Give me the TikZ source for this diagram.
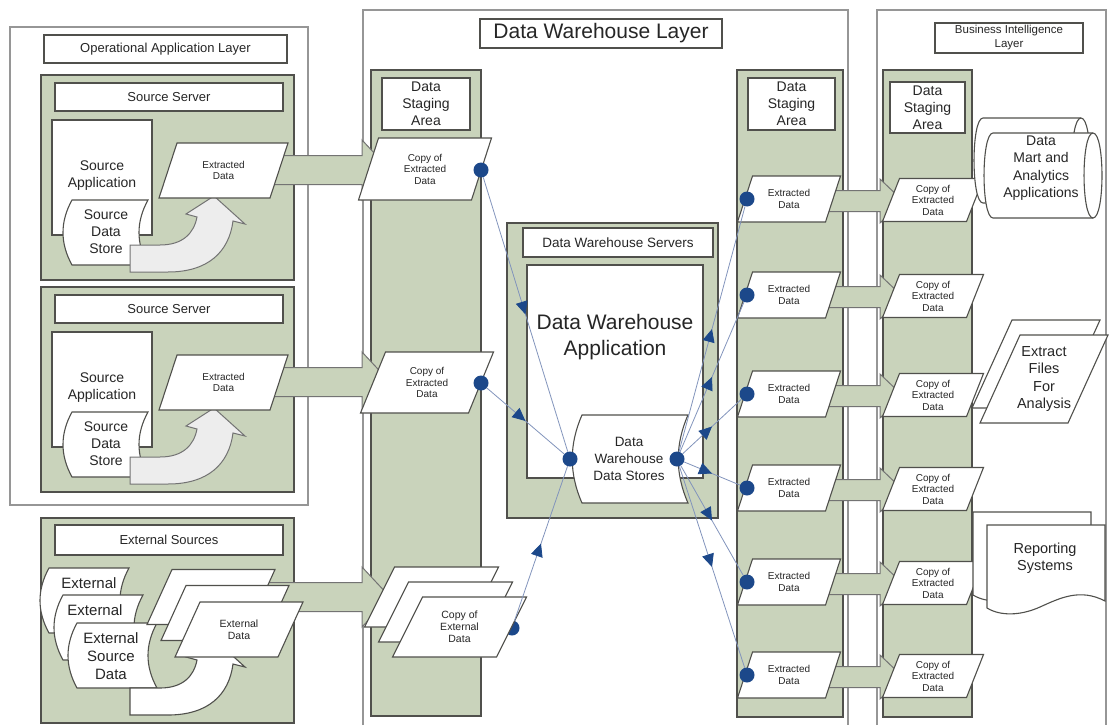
\documentclass[tikz,border=0pt]{standalone}
\usepackage{fontspec}
\setmainfont{Liberation Sans}
\usetikzlibrary{arrows.meta,decorations.markings}

\definecolor{dwgreen}{RGB}{201,211,187}
\definecolor{edgegray}{RGB}{80,80,76}
\definecolor{layergray}{RGB}{150,150,150}
\definecolor{linkblue}{RGB}{130,148,188}
\definecolor{dotblue}{RGB}{28,72,138}

\newcommand\fsz[2]{\fontsize{#1}{#2}\selectfont}

\tikzset{
  layerbox/.style={draw=layergray,line width=2},
  greenbox/.style={draw=edgegray,fill=dwgreen,line width=1.4},
  titlebox/.style={draw=edgegray,fill=white,line width=1.3,inner sep=2pt,align=center,text=black!85},
  shapeline/.style={draw=edgegray,fill=white,line width=1.1},
  flowarrow/.style={draw=black!55,fill=dwgreen,line width=1},
  liftarrow/.style={draw=black!55,fill=black!7,line width=1},
  lbl/.style={align=center,inner sep=0,text=black!85},
  link/.style={draw=linkblue,line width=0.8,postaction={decorate},
    decoration={markings,mark=at position 0.5 with {\arrow[dotblue]{Triangle[length=13pt,width=12pt]}}}},
  dot/.style={circle,fill=dotblue,minimum size=15pt,inner sep=0},
}

% parallelogram: name, cx, cy, width, height, slant, font, text
\newcommand\pgram[8]{%
  \filldraw[shapeline] ({(#2)-(#4)/2+(#6)/2},{(#3)-(#5)/2}) -- ++(#4,0)
    -- ({(#2)+(#4)/2-(#6)/2},{(#3)+(#5)/2}) -- ++(-#4,0) -- cycle;
  \node[lbl,font=#7] (#1) at (#2,#3) {#8};}

% stored-data outline: x1, y1, x2, y2, bulge
\newcommand\storepath[5]{%
  \filldraw[shapeline] (#1,#2) -- (#3,#2)
    .. controls ({(#3)-(#5)},{(#2)+((#4)-(#2))/3}) and ({(#3)-(#5)},{(#4)-((#4)-(#2))/3}) .. (#3,#4)
    -- (#1,#4)
    .. controls ({(#1)-(#5)},{(#4)-((#4)-(#2))/3}) and ({(#1)-(#5)},{(#2)+((#4)-(#2))/3}) .. (#1,#2) -- cycle;}

% horizontal cylinder: x1 (left end), y1, x2 (right end centre), y2, end radius
\newcommand\hcyl[5]{%
  \filldraw[shapeline] (#1,#2) -- (#3,#2)
    .. controls ({(#3)+1.33*(#5)},#2) and ({(#3)+1.33*(#5)},#4) .. (#3,#4)
    -- (#1,#4)
    .. controls ({(#1)-1.33*(#5)},#4) and ({(#1)-1.33*(#5)},#2) .. (#1,#2) -- cycle;
  \draw[edgegray,line width=1.1] (#3,#2)
    .. controls ({(#3)-1.33*(#5)},#2) and ({(#3)-1.33*(#5)},#4) .. (#3,#4);}

% wide block arrow: x start, head base x, tip x, centre y, half shaft, half head
\newcommand\bigarrow[6]{%
  \filldraw[flowarrow] (#1,{(#4)-(#5)}) -- (#2,{(#4)-(#5)}) -- (#2,{(#4)-(#6)}) -- (#3,#4)
    -- (#2,{(#4)+(#6)}) -- (#2,{(#4)+(#5)}) -- (#1,{(#4)+(#5)}) -- cycle;}

% curved block arrow lifting data out of a store: vertical offset, style
\newcommand\lift[2]{%
  \filldraw[#2] (130,245+#1) -- (160,245+#1)
    .. controls (183,245+#1) and (194,233+#1) .. (197,217+#1)
    -- (186,214+#1) -- (214,196+#1) -- (245,224+#1) -- (233,221+#1)
    .. controls (229,252+#1) and (208,272+#1) .. (168,272+#1)
    -- (130,272+#1) -- cycle;}

% one source server block: vertical offset, name suffix
\newcommand\sourceserver[2]{%
  \filldraw[greenbox] (41,75+#1) rectangle (294,280+#1);
  \node[titlebox,minimum width=228pt,minimum height=28pt,font=\fsz{13}{15}] (srvT#2) at (169,97+#1) {Source Server};
  \node[shapeline,minimum width=100pt,minimum height=115pt,inner sep=0] (app#2) at (102,177.5+#1) {};
  \node[lbl,font=\fsz{14}{17}] (appL#2) at (102,176+#1) {Source\\Application};
  \storepath{72}{200+#1}{148}{265+#1}{12}
  \node[lbl,font=\fsz{14}{17}] (store#2) at (106,232+#1) {Source\\Data\\Store};
  \lift{#1}{liftarrow}
}

\begin{document}
\begin{tikzpicture}[x=1pt,y=-1pt]
\useasboundingbox (0,0) rectangle (1110,725);

% ---------------- layers ----------------
\draw[layerbox,fill=white] (10,27) rectangle (308,505);
\draw[layerbox] (363,725) -- (363,10) -- (848,10) -- (848,725);
\draw[layerbox] (877,725) -- (877,10) -- (1106,10) -- (1106,725);
\node[titlebox,minimum width=243pt,minimum height=28pt,font=\fsz{13}{15}] (oplT) at (165.5,49) {Operational Application Layer};
\node[titlebox,minimum width=242pt,minimum height=29pt,font=\fsz{21}{24}] (dwlT) at (601,33.5) {Data Warehouse Layer};
\node[titlebox,minimum width=148pt,minimum height=30pt,font=\fsz{11.5}{14}] (bilT) at (1009,38) {Business Intelligence\\Layer};

% ---------------- operational sources ----------------
\sourceserver{0}{A}
\sourceserver{212}{B}

\filldraw[greenbox] (41,518) rectangle (294,723);
\node[titlebox,minimum width=228pt,minimum height=30pt,font=\fsz{13}{15}] (extT) at (169,540) {External Sources};
\storepath{49}{568}{129}{633}{12}
\node[lbl,font=\fsz{15}{18}] (extS1) at (89,583) {External};
\storepath{63}{595}{143}{660}{12}
\node[lbl,font=\fsz{15}{18}] (extS2) at (95,610) {External};
\storepath{77}{623}{157}{688}{12}
\node[lbl,font=\fsz{15}{18}] (extS3) at (111,656) {External\\Source\\Data};
\lift{443}{shapeline}

% ---------------- staging columns ----------------
\filldraw[greenbox] (371,70) rectangle (481,716);
\node[titlebox,minimum width=88pt,minimum height=52pt,font=\fsz{14}{17}] (stgL) at (426,104) {Data\\Staging\\Area};

\filldraw[greenbox] (737,70) rectangle (843,717);
\node[titlebox,minimum width=87pt,minimum height=52pt,font=\fsz{14}{17}] (stgR) at (791.5,104) {Data\\Staging\\Area};

\filldraw[greenbox] (883,70) rectangle (972,717);
\node[titlebox,minimum width=75pt,minimum height=51pt,font=\fsz{14}{17}] (stgB) at (927.5,107.5) {Data\\Staging\\Area};

% ---------------- data warehouse servers ----------------
\filldraw[greenbox] (507,223) rectangle (718,518);
\node[titlebox,minimum width=190pt,minimum height=29pt,font=\fsz{13.5}{16}] (dwsT) at (618,242.5) {Data Warehouse Servers};
\node[shapeline,minimum width=176pt,minimum height=213pt,inner sep=0] (dwApp) at (615,371.5) {};
\node[lbl,font=\fsz{21}{26}] (dwAppL) at (615,337) {Data Warehouse\\Application};
\storepath{582}{415}{688}{503}{13}
\node[lbl,font=\fsz{13.5}{17}] (dsL) at (629,459) {Data\\Warehouse\\Data Stores};

% ---------------- block arrows ----------------
\bigarrow{255}{362}{390}{170}{14.5}{30}
\bigarrow{255}{362}{390}{382}{14.5}{30}
\bigarrow{265}{362}{390}{597}{14.5}{30}
\foreach \r in {199,295,394,488,582,675}{
  \bigarrow{815}{880}{903}{\r+2}{10.5}{22}
}

% dot partly hidden behind the external copies
\node[dot] (c3) at (512,628) {};

% ---------------- extracted data ----------------
\pgram{exA}{223.5}{170.5}{111}{55}{18}{\fsz{10}{11.5}}{Extracted\\Data}
\pgram{exB}{223.5}{382.5}{111}{55}{18}{\fsz{10}{11.5}}{Extracted\\Data}
\pgram{exD3}{211}{597}{103}{55}{25}{\fsz{10}{11.5}}{}
\pgram{exD2}{225}{613}{103}{55}{25}{\fsz{10}{11.5}}{}
\pgram{exD1}{239}{629.5}{103}{55}{25}{\fsz{10.5}{12}}{External\\Data}

\pgram{cpA}{425}{169}{113}{62}{20}{\fsz{10}{11.5}}{Copy of\\Extracted\\Data}
\pgram{cpB}{427}{382.5}{108}{61}{25}{\fsz{10}{11.5}}{Copy of\\Extracted\\Data}
\pgram{cpE3}{431.5}{597}{104}{60}{30}{\fsz{10}{11.5}}{}
\pgram{cpE2}{445.5}{612}{104}{60}{30}{\fsz{10}{11.5}}{}
\pgram{cpE1}{459.5}{627}{104}{60}{30}{\fsz{10.5}{12}}{Copy of\\External\\Data}

\foreach \r [count=\i] in {199,295,394,488,582,675}{
  \pgram{rx\i}{789}{\r}{88}{46}{15}{\fsz{10}{11.5}}{Extracted\\Data}
  \pgram{bx\i}{933}{\r+1}{84}{43}{17}{\fsz{10}{11.5}}{Copy of\\Extracted\\Data}
}

% ---------------- business intelligence outputs ----------------
\hcyl{983}{118}{1081}{203}{9}
\hcyl{993}{133}{1093}{218}{9}
\node[lbl,font=\fsz{14}{17.5}] (mart) at (1041,168) {Data\\Mart and\\Analytics\\Applications};

\filldraw[shapeline] (1012,320) -- (1100,320) -- (1060,408) -- (972,408) -- cycle;
\pgram{files}{1044}{379}{88}{88}{40}{\fsz{14.5}{17.5}}{Extract\\Files\\For\\Analysis}

\filldraw[shapeline] (973,512) -- (1091,512) -- (1091,588)
  .. controls (1066,575) and (1046,585) .. (1026,594)
  .. controls (1006,603) and (986,603) .. (973,595) -- cycle;
\filldraw[shapeline] (987,525) -- (1105,525) -- (1105,601)
  .. controls (1080,588) and (1060,598) .. (1040,607)
  .. controls (1020,616) and (1000,616) .. (987,608) -- cycle;
\node[lbl,font=\fsz{14.5}{17}] (rep) at (1045,558) {Reporting\\Systems};

% ---------------- load links ----------------
\node[dot] (c1) at (481,170) {};
\node[dot] (c2) at (481,383) {};
\node[dot] (dsl) at (570,459) {};
\node[dot] (dsr) at (677,459) {};
\foreach \r [count=\i] in {199,295,394,488,582,675}{
  \node[dot] (r\i) at (747,\r) {};
}

\draw[link] (c1) -- (dsl);
\draw[link] (c2) -- (dsl);
\draw[link] (c3) -- (dsl);
\foreach \i in {1,...,6}{
  \draw[link] (dsr) -- (r\i);
}
\end{tikzpicture}
\end{document}
